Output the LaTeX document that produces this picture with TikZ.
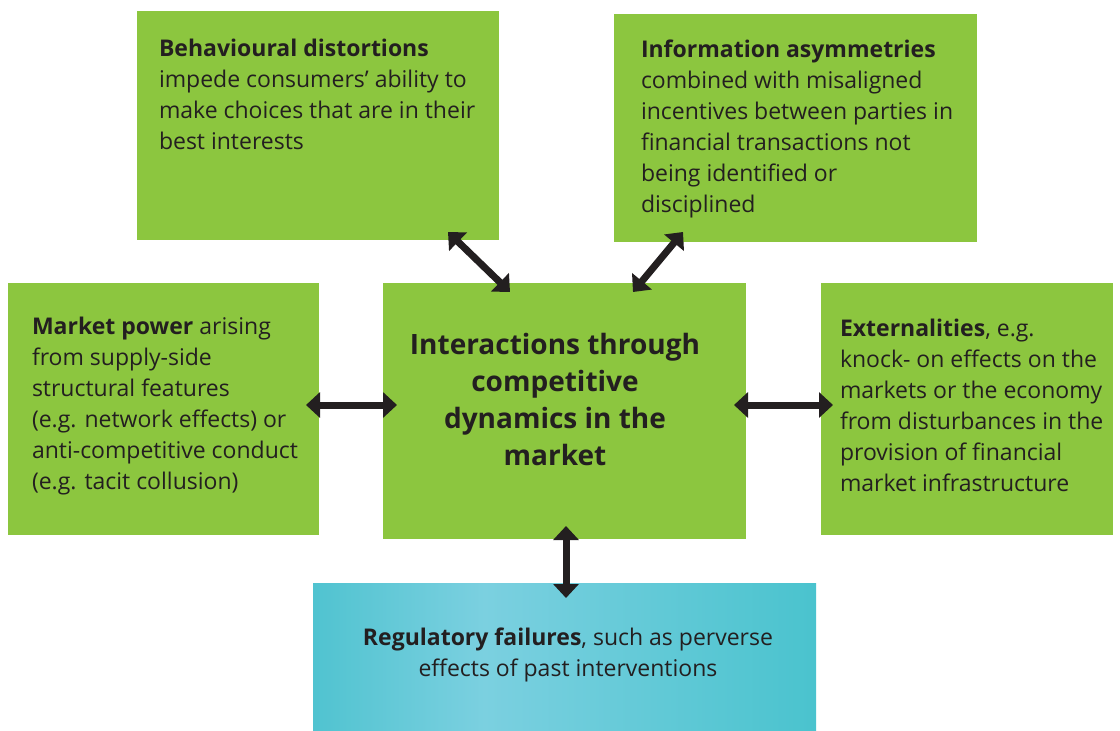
\documentclass[tikz,border=0pt]{standalone}
\usepackage{fontspec}
\setmainfont{Open Sans}
\usetikzlibrary{arrows.meta}
\definecolor{boxgreen}{HTML}{8CC63F}
\definecolor{inkc}{HTML}{231F20}
\definecolor{blueA}{HTML}{50C3D0}
\definecolor{blueB}{HTML}{7BD0E0}
\definecolor{blueC}{HTML}{4AC3CE}
\pgfdeclarehorizontalshading{regshade}{100bp}{color(0bp)=(blueA); color(25bp)=(blueA); color(42bp)=(blueB); color(75bp)=(blueC); color(100bp)=(blueC)}
\tikzset{
  gbox/.style={fill=boxgreen, draw=none, inner sep=0pt, outer sep=0pt},
  bodytxt/.style={inner sep=0pt, outer sep=0pt, anchor=north west, align=left, text=inkc, font=\fontsize{23}{31}\selectfont},
  ctrtxt/.style={inner sep=0pt, outer sep=0pt, anchor=north, align=center, text=inkc, font=\fontsize{28}{37}\selectfont\bfseries},
  arr/.style={line width=7pt, draw=inkc, {Triangle[length=14pt,width=25pt]}-{Triangle[length=14pt,width=25pt]}}
}
\begin{document}
\begin{tikzpicture}[x=1pt,y=-1pt]
\useasboundingbox (0,0) rectangle (1120,731);
% boxes
\path[gbox] (137,11) rectangle (499,240) coordinate[pos=0.5] (bd);
\path[gbox] (614,14) rectangle (977,242) coordinate[pos=0.5] (ia);
\path[gbox] (8,283) rectangle (319,535) coordinate[pos=0.5] (mp);
\path[gbox] (383,283) rectangle (746,539) coordinate[pos=0.5] (ctr);
\path[gbox] (821,283) rectangle (1113,535) coordinate[pos=0.5] (ext);
\path[shading=regshade, draw=none] (313,583) rectangle (816,731) coordinate[pos=0.5] (reg);
% texts
\node[bodytxt] (bdt) at (159,39.5) {\textbf{Behavioural distortions}\\impede consumers’ ability to\\make choices that are in their\\best interests};
\node[bodytxt] (iat) at (641,39.5) {\textbf{Information asymmetries}\\combined with misaligned\\incentives between parties in\\financial transactions not\\being identified or\\disciplined};
\node[bodytxt] (mpt) at (32,317) {\textbf{Market power} arising\\from supply-side\\structural features\\(e.g. network effects) or\\anti-competitive conduct\\(e.g. tacit collusion)};
\node[bodytxt] (extt) at (840,319.5) {\textbf{Externalities}, e.g.\\knock- on effects on the\\markets or the economy\\from disturbances in the\\provision of financial\\market infrastructure};
\node[ctrtxt] (ctrt) at (555,333) {Interactions through\\competitive\\dynamics in the\\market};
\node[bodytxt, anchor=north, align=center] (regt) at (568,628) {\textbf{Regulatory failures}, such as perverse\\effects of past interventions};
% arrow tips
\coordinate (a1) at (448,232); \coordinate (a2) at (510,292);
\coordinate (b1) at (683,232); \coordinate (b2) at (633,292);
\coordinate (c1) at (306,405); \coordinate (c2) at (397,405);
\coordinate (d1) at (734,405); \coordinate (d2) at (833,405);
\coordinate (e1) at (566,526); \coordinate (e2) at (566,598);
\draw[arr] (a1) -- (a2);
\draw[arr] (b1) -- (b2);
\draw[arr] (c1) -- (c2);
\draw[arr] (d1) -- (d2);
\draw[arr] (e1) -- (e2);
\end{tikzpicture}
\end{document}
